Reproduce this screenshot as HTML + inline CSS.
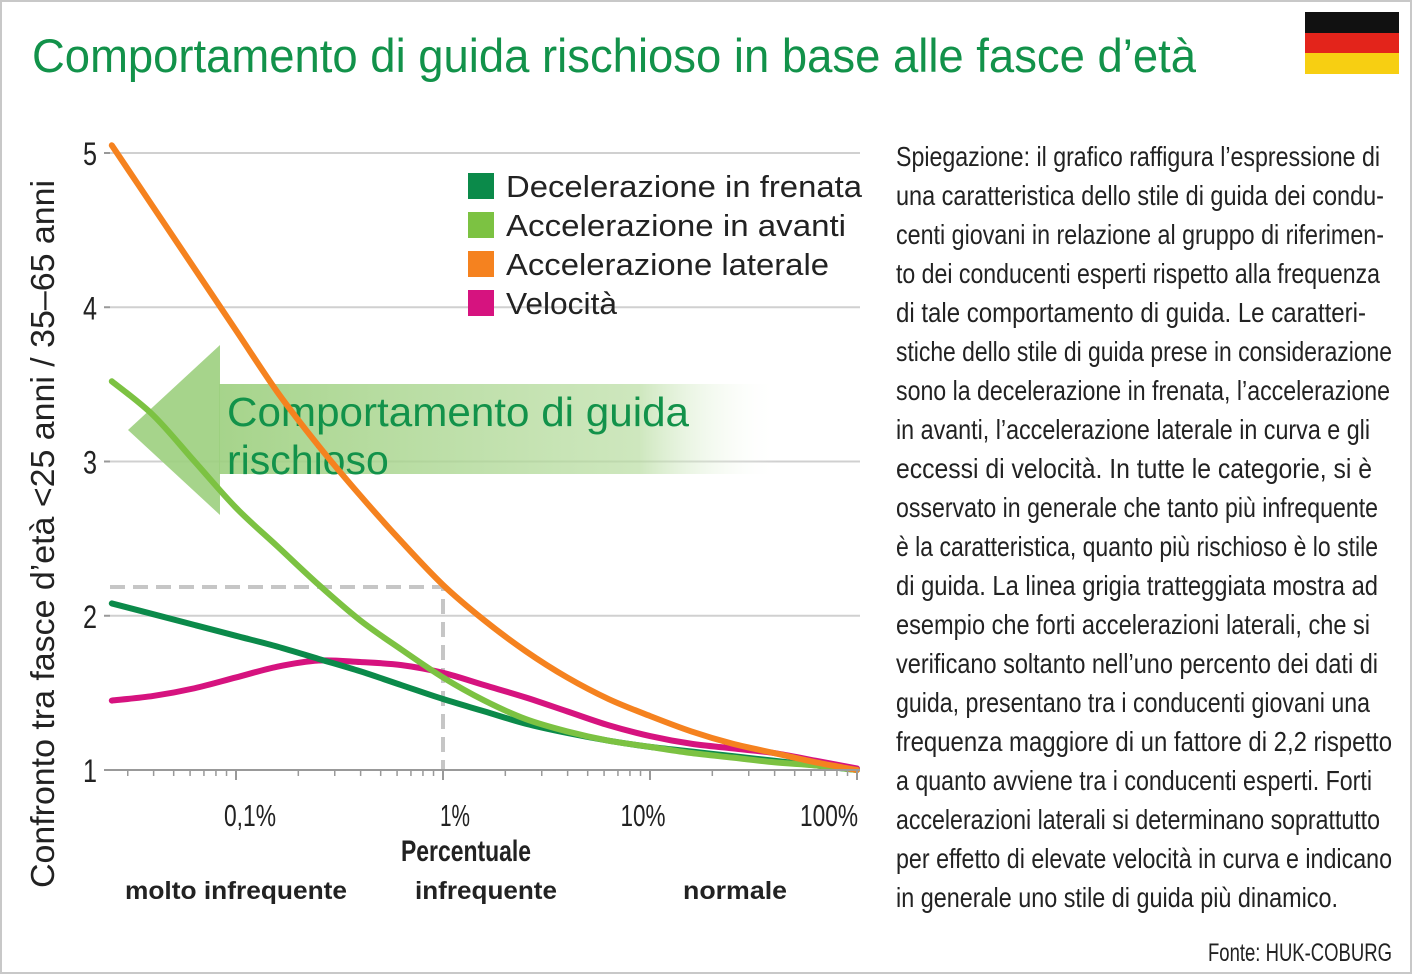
<!DOCTYPE html>
<html><head><meta charset="utf-8"><style>
html,body{margin:0;padding:0;background:#fff}
svg{display:block}
text{font-family:"Liberation Sans",sans-serif}
</style></head><body>
<svg id="chart" width="1412" height="974" viewBox="0 0 1412 974" xmlns="http://www.w3.org/2000/svg">
<defs>
<linearGradient id="arrowGrad" x1="0" x2="1" y1="0" y2="0">
<stop offset="0" stop-color="#9ccf7e" stop-opacity="0.9"/>
<stop offset="0.75" stop-color="#b9dda2" stop-opacity="0.7"/>
<stop offset="1" stop-color="#ffffff" stop-opacity="0"/>
</linearGradient>
</defs>
<rect x="1" y="1" width="1410" height="972" fill="#fff" stroke="#c8c8c8" stroke-width="2"/>
<text x="32" y="72" font-size="47" fill="#12924a" textLength="1164" lengthAdjust="spacingAndGlyphs">Comportamento di guida rischioso in base alle fasce d’età</text>
<g>
<rect x="1305" y="12" width="94" height="21" fill="#111"/>
<rect x="1305" y="33" width="94" height="20" fill="#e3241b"/>
<rect x="1305" y="53" width="94" height="21" fill="#f7cf12"/>
</g>
<g id="grid"></g>
<g>
<rect x="219" y="384" width="560" height="90" fill="url(#arrowGrad)"/>
<polygon points="128,430 220,345 220,515" fill="#9ccf7e" opacity="0.9"/>
<text x="227" y="426" font-size="41" fill="#12924a" textLength="462" lengthAdjust="spacingAndGlyphs">Comportamento di guida</text>
<text x="227" y="474" font-size="41" fill="#12924a">rischioso</text>
</g>
<g>
<path d="M110 587 H443 V770" fill="none" stroke="#c6c6c6" stroke-width="4" stroke-dasharray="15 8"/>
</g>
<g id="series"></g>
<g id="axes"></g>
<text transform="translate(54,534) rotate(-90)" font-size="33" fill="#222" text-anchor="middle" textLength="708" lengthAdjust="spacingAndGlyphs">Confronto tra fasce d’età &lt;25 anni / 35–65 anni</text>
<g>
<rect x="468" y="173" width="26" height="26" fill="#0b8a4a"/>
<text x="506" y="197" font-size="31" fill="#222" textLength="356" lengthAdjust="spacingAndGlyphs">Decelerazione in frenata</text>
<rect x="468" y="212" width="26" height="26" fill="#7cc242"/>
<text x="506" y="236" font-size="31" fill="#222" textLength="340" lengthAdjust="spacingAndGlyphs">Accelerazione in avanti</text>
<rect x="468" y="251" width="26" height="26" fill="#f5821f"/>
<text x="506" y="275" font-size="31" fill="#222" textLength="323" lengthAdjust="spacingAndGlyphs">Accelerazione laterale</text>
<rect x="468" y="290" width="26" height="26" fill="#d6137f"/>
<text x="506" y="314" font-size="31" fill="#222" textLength="111" lengthAdjust="spacingAndGlyphs">Velocità</text>
</g>
<text x="466" y="861" font-size="30" font-weight="bold" fill="#222" text-anchor="middle" textLength="130" lengthAdjust="spacingAndGlyphs">Percentuale</text>
<g font-size="25" font-weight="bold" fill="#222">
<text x="236" y="899" text-anchor="middle" textLength="222" lengthAdjust="spacingAndGlyphs">molto infrequente</text>
<text x="486" y="899" text-anchor="middle" textLength="142" lengthAdjust="spacingAndGlyphs">infrequente</text>
<text x="735" y="899" text-anchor="middle" textLength="104" lengthAdjust="spacingAndGlyphs">normale</text>
</g>
<g id="desc" font-size="28" fill="#222"></g>
<text x="1392" y="961" font-size="25" fill="#222" text-anchor="end" textLength="184" lengthAdjust="spacingAndGlyphs">Fonte: HUK-COBURG</text>
</svg>
<script>
const logPct = [-1.6,-1.4,-1.2,-1,-0.8,-0.6,-0.4,-0.2,0,0.2,0.4,0.6,0.8,1,1.2,1.4,1.6,1.8,2];
const decelerazione = [2.08,2.01,1.94,1.87,1.8,1.72,1.64,1.55,1.46,1.38,1.3,1.24,1.19,1.15,1.12,1.09,1.06,1.03,1.0];
const accAvanti = [3.52,3.3,3.0,2.7,2.45,2.2,1.97,1.78,1.6,1.45,1.33,1.25,1.19,1.15,1.11,1.08,1.05,1.03,1.0];
const accLaterale = [5.05,4.65,4.25,3.85,3.45,3.1,2.78,2.48,2.2,1.97,1.77,1.6,1.46,1.35,1.25,1.17,1.11,1.05,1.0];
const velocita = [1.45,1.48,1.53,1.6,1.67,1.71,1.7,1.68,1.63,1.55,1.47,1.38,1.29,1.22,1.17,1.14,1.11,1.06,1.01];
const yTicks = [1,2,3,4,5];
const xTicks = [-1,0,1,2];
const xTickLabels = ["0,1%","1%","10%","100%"];
const descLines = ["Spiegazione: il grafico raffigura l’espressione di","una caratteristica dello stile di guida dei condu-","centi giovani in relazione al gruppo di riferimen-","to dei conducenti esperti rispetto alla frequenza","di tale comportamento di guida. Le caratteri-","stiche dello stile di guida prese in considerazione","sono la decelerazione in frenata, l’accelerazione","in avanti, l’accelerazione laterale in curva e gli","eccessi di velocità. In tutte le categorie, si è","osservato in generale che tanto più infrequente","è la caratteristica, quanto più rischioso è lo stile","di guida. La linea grigia tratteggiata mostra ad","esempio che forti accelerazioni laterali, che si","verificano soltanto nell’uno percento dei dati di","guida, presentano tra i conducenti giovani una","frequenza maggiore di un fattore di 2,2 rispetto","a quanto avviene tra i conducenti esperti. Forti","accelerazioni laterali si determinano soprattutto","per effetto di elevate velocità in curva e indicano","in generale uno stile di guida più dinamico."];
const descWidths = [484,488,488,484,470,496,494,474,476,482,482,482,474,482,474,496,476,484,496,442];

const NS="http://www.w3.org/2000/svg";
const xS = L => 443 + L*207;
const yS = v => 770 - (v-1)*154.25;
function mk(tag, attrs, parent){const e=document.createElementNS(NS,tag);for(const k in attrs)e.setAttribute(k,attrs[k]);parent.appendChild(e);return e;}
const grid=document.getElementById('grid'), axes=document.getElementById('axes'), series=document.getElementById('series');
yTicks.forEach(v=>{
  if(v>1){const l=mk('line',{x1:110,x2:860,y1:yS(v),y2:yS(v),stroke:'#d0d0d0','stroke-width':2},grid);
  
  }
  mk('line',{x1:104,x2:110,y1:yS(v),y2:yS(v),stroke:'#999','stroke-width':2},axes);
  const t=mk('text',{x:90,y:yS(v)+12,'font-size':32,'text-anchor':'middle',fill:'#222',textLength:14,lengthAdjust:'spacingAndGlyphs'},axes);
  t.textContent=v;
  
  
});
const ax=mk('line',{x1:110,x2:860,y1:770,y2:770,stroke:'#999','stroke-width':2},axes);


for(let d=-2;d<2;d++){for(let m=1;m<10;m++){const L=d+Math.log10(m);const x=xS(L);if(x<110||x>860)continue;
  mk('line',{x1:x,x2:x,y1:770,y2:m===1?780:776,stroke:'#999','stroke-width':m===1?2:1.5},axes);}}
mk('line',{x1:xS(2),x2:xS(2),y1:770,y2:780,stroke:'#999','stroke-width':2},axes);
const tickW=[52,30,45,58];
xTicks.forEach((L,i)=>{const t=mk('text',{x:xS(L)+ (i===3?-28:i===0?14:i===1?12:-7),y:826,'font-size':31,'text-anchor':'middle',fill:'#222',textLength:tickW[i],lengthAdjust:'spacingAndGlyphs'},axes);
  t.textContent=xTickLabels[i];
  
  });
function path(vals){const p=logPct.map((L,i)=>[xS(L),yS(vals[i])]);let d='M'+p[0][0]+' '+p[0][1];
  for(let i=0;i<p.length-1;i++){const p0=p[Math.max(0,i-1)],p1=p[i],p2=p[i+1],p3=p[Math.min(p.length-1,i+2)];
  d+=` C${p1[0]+(p2[0]-p0[0])/6} ${p1[1]+(p2[1]-p0[1])/6} ${p2[0]-(p3[0]-p1[0])/6} ${p2[1]-(p3[1]-p1[1])/6} ${p2[0]} ${p2[1]}`;}return d;}
[[velocita,'#d6137f','line-velocita'],[decelerazione,'#0b8a4a','line-decelerazione'],[accAvanti,'#7cc242','line-acc-avanti'],[accLaterale,'#f5821f','line-acc-laterale']].forEach(s=>{
  const e=mk('path',{d:path(s[0]),fill:'none',stroke:s[1],'stroke-width':6,'stroke-linecap':'round'},series);
  
  
});
const desc=document.getElementById('desc');
descLines.forEach((s,i)=>{const t=mk('text',{x:896,y:166+i*39,textLength:descWidths[i],lengthAdjust:'spacingAndGlyphs'},desc);t.textContent=s;
  
  });
</script>
</body></html>
